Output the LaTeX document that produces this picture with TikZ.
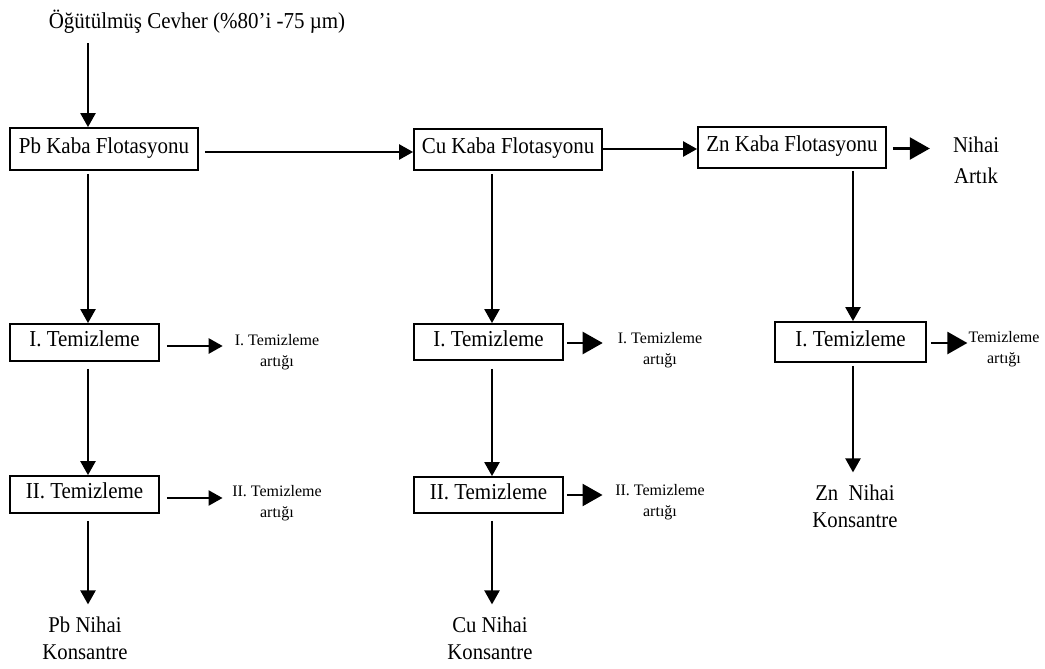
\documentclass[tikz,border=0pt]{standalone}
\usepackage{fontspec}
\setmainfont{Liberation Serif}
\newfontfamily\condfont[FakeStretch=0.92]{Liberation Serif}
\usetikzlibrary{arrows.meta}
\begin{document}
\begin{tikzpicture}[x=1pt,y=-1pt,
  box/.style={draw,line width=1.8pt,inner sep=0pt,text height=0.85em,text depth=0pt,font=\condfont\fontsize{22.8}{25}\selectfont},
  lbl/.style={inner sep=0pt,align=center,font=\condfont\fontsize{22.5}{27}\selectfont},
  slbl/.style={inner sep=0pt,align=center,font=\fontsize{16}{21}\selectfont},
  arr/.style={line width=2.4pt,-{Triangle[length=14pt,width=15pt]}},
  arrB/.style={line width=2.4pt,-{Triangle[length=20pt,width=22pt]}}]
\useasboundingbox (0,0) rectangle (1045,669);
\coordinate (cP) at (88,0);
\coordinate (cC) at (492,0);
\coordinate (cZ) at (853,0);
% nodes
\node[inner sep=0pt,anchor=base,font=\condfont\fontsize{22.8}{25}\selectfont] (top) at (197,29) {Öğütülmüş Cevher (\%80’i -75 µm)};
\node[box,minimum width=188pt,minimum height=42pt] (pb) at (104,149) {Pb Kaba Flotasyonu};
\node[box,minimum width=188pt,minimum height=41pt] (cu) at (508,149.5) {Cu Kaba Flotasyonu};
\node[box,minimum width=188pt,minimum height=41pt] (zn) at (792,147.5) {Zn Kaba Flotasyonu};
\node[box,minimum width=149pt,minimum height=37pt] (pbI) at (84.5,342.5) {I. Temizleme};
\node[box,minimum width=149pt,minimum height=37pt] (pbII) at (84.5,494.5) {II. Temizleme};
\node[box,minimum width=149pt,minimum height=36pt] (cuI) at (488.5,342) {I. Temizleme};
\node[box,minimum width=149pt,minimum height=36pt] (cuII) at (488.5,495) {II. Temizleme};
\node[box,minimum width=151pt,minimum height=40pt] (znI) at (850.5,342) {I. Temizleme};
\node[lbl,font=\condfont\fontsize{22.5}{31}\selectfont] (art) at (976,160.5) {Nihai\\ Artık};
\node[slbl] (pbIa) at (277,352) {I. Temizleme\\artığı};
\node[slbl] (pbIIa) at (277,503) {II. Temizleme\\artığı};
\node[slbl] (cuIa) at (660,350) {I. Temizleme\\artığı};
\node[slbl] (cuIIa) at (660,502) {II. Temizleme\\artığı};
\node[slbl] (znIa) at (1004,349) {Temizleme\\artığı};
\node[lbl] (pbK) at (85,638) {Pb Nihai\\Konsantre};
\node[lbl] (cuK) at (490,638) {Cu Nihai\\Konsantre};
\node[lbl] (znK) at (855,506) {Zn~ Nihai\\Konsantre};
% connectors
\draw[arr,shorten <=9pt] (top.south -| cP) -- (pb.north -| cP);
\draw[arr,shorten <=6pt] ([yshift=-3pt]pb.east) -- ([yshift=-3pt]pb.east -| cu.west);
\draw[arr] ([yshift=0.5pt]cu.east) -- ([yshift=0.5pt]cu.east -| zn.west);
\draw[arrB,shorten <=6pt,shorten >=23pt] ([yshift=-1pt]zn.east) -- ([yshift=-1pt]zn.east -| art.west);
% Pb column
\draw[arr,shorten <=3pt] (pb.south -| cP) -- (pbI.north -| cP);
\draw[arr,shorten <=7pt] (pbI.south -| cP) -- (pbII.north -| cP);
\draw[arr,shorten <=7pt,shorten >=12pt] (pbII.south -| cP) -- (pbK.north -| cP);
\draw[arr,shorten <=7pt,shorten >=12pt] ([yshift=-3.5pt]pbI.east) -- ([yshift=-3.5pt]pbI.east -| pbIa.west);
\draw[arr,shorten <=7pt,shorten >=9.5pt] ([yshift=-3.5pt]pbII.east) -- ([yshift=-3.5pt]pbII.east -| pbIIa.west);
% Cu column
\draw[arr,shorten <=3pt] (cu.south -| cC) -- (cuI.north -| cC);
\draw[arr,shorten <=8pt] (cuI.south -| cC) -- (cuII.north -| cC);
\draw[arr,shorten <=7pt,shorten >=12pt] (cuII.south -| cC) -- (cuK.north -| cC);
\draw[arrB,shorten <=3pt,shorten >=15pt] ([yshift=-1pt]cuI.east) -- ([yshift=-1pt]cuI.east -| cuIa.west);
\draw[arrB,shorten <=3pt,shorten >=12.5pt] ([yshift=0pt]cuII.east) -- ([yshift=0pt]cuII.east -| cuIIa.west);
% Zn column
\draw[arr,shorten <=2pt] (zn.south -| cZ) -- (znI.north -| cZ);
\draw[arr,shorten <=3pt,shorten >=12pt] (znI.south -| cZ) -- (znK.north -| cZ);
\draw[arrB,shorten <=4pt,shorten >=1pt] ([yshift=-1pt]znI.east) -- ([yshift=-1pt]znI.east -| znIa.west);
\end{tikzpicture}
\end{document}
